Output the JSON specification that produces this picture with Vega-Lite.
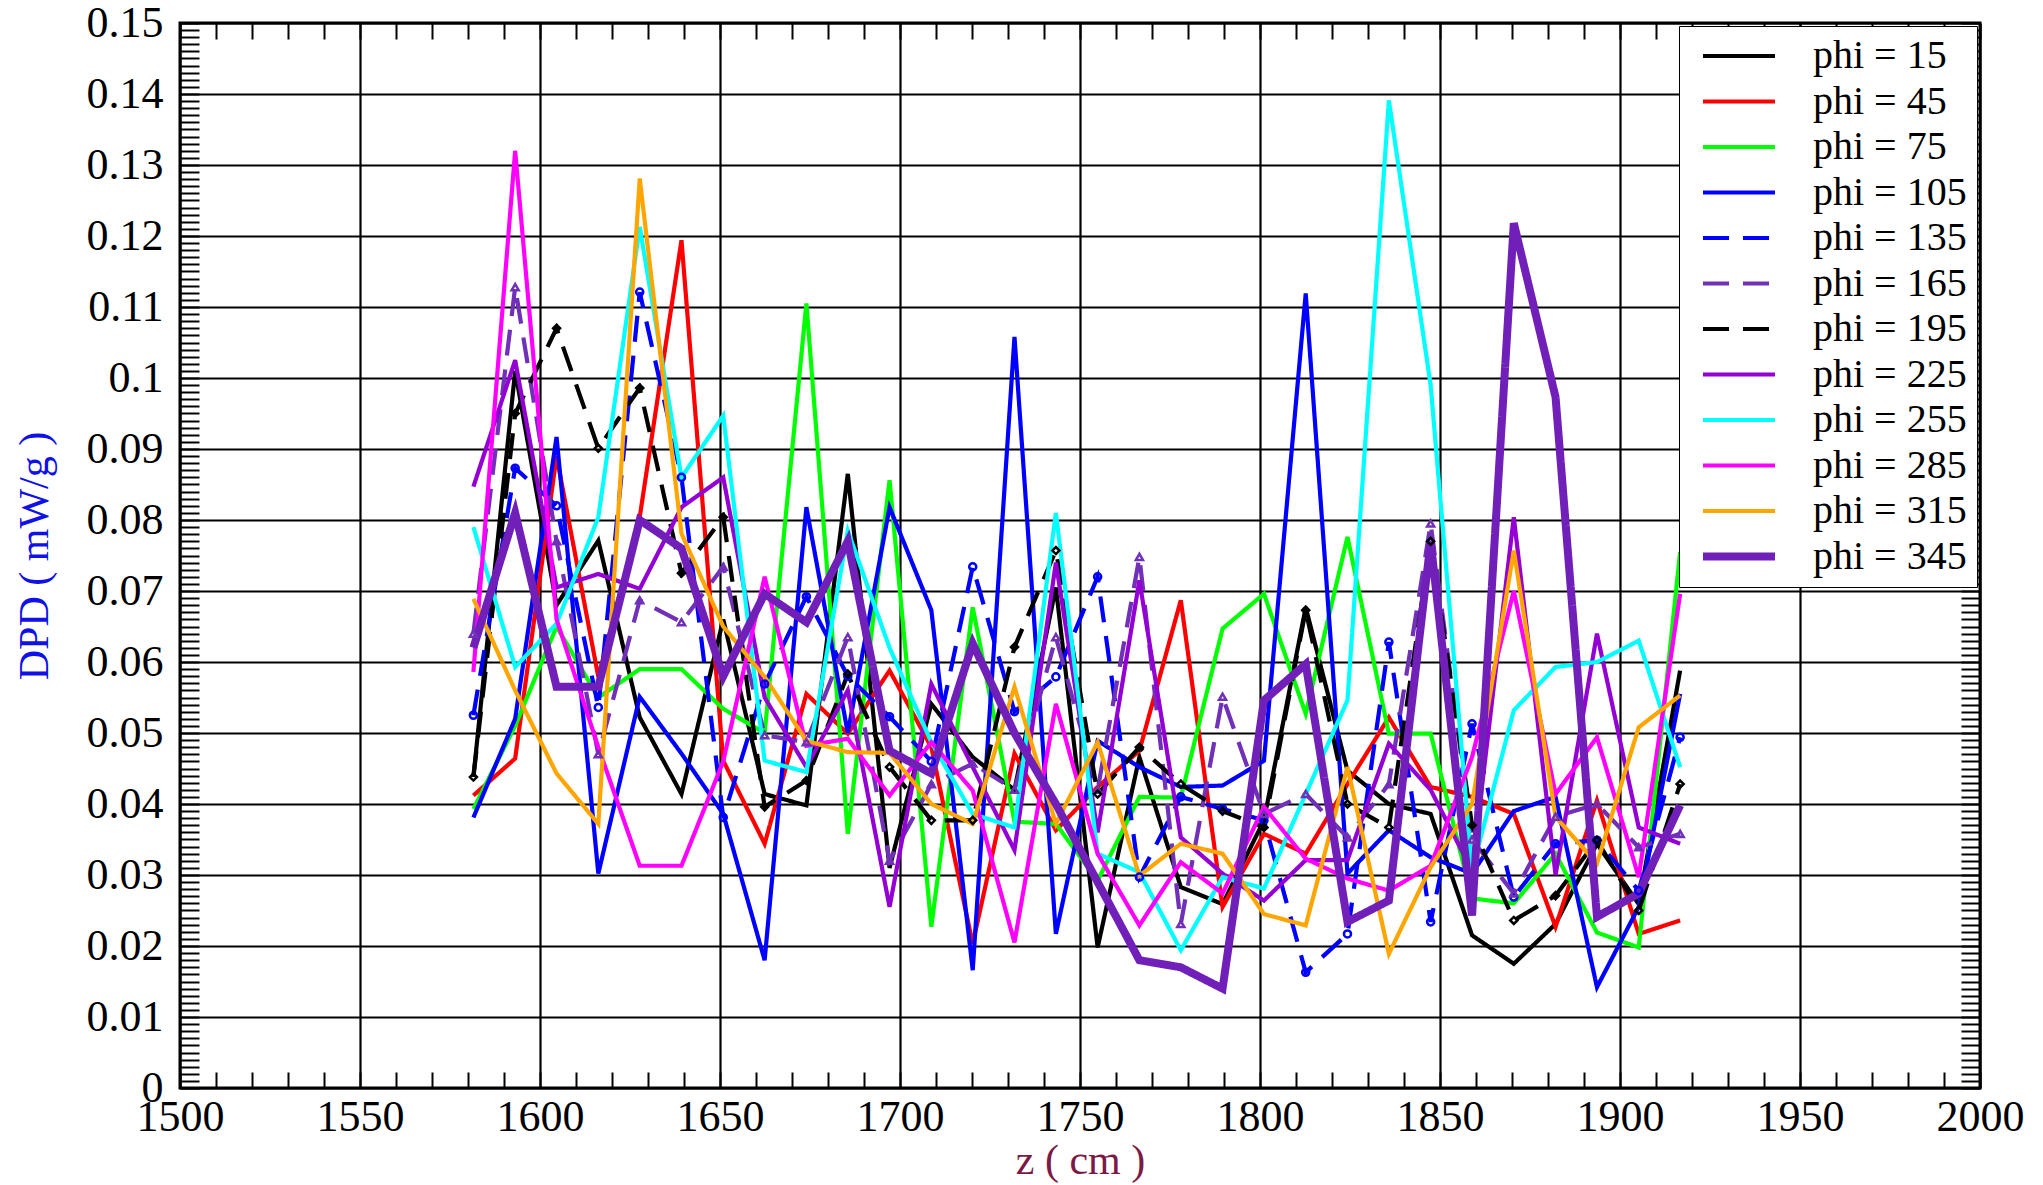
{
"$schema": "https://vega.github.io/schema/vega-lite/v6.json",
"width": 1800, "height": 1065,
"autosize": {"type": "none"},
"padding": {"left": 180, "top": 23, "right": 63, "bottom": 97},
"background": "white",
"config": {"view": {"stroke": "black", "strokeWidth": 3}, "font": "Liberation Serif"},
"data": {"values": [
{"z":1581.5,"15":0.0438,"45":0.0412,"75":0.0393,"105":0.0381,"135":0.0525,"165":0.064,"195":0.0438,"225":0.0847,"255":0.079,"285":0.0586,"315":0.0689,"345":0.062},
{"z":1593.1,"15":0.101,"45":0.0464,"75":0.051,"105":0.052,"135":0.0873,"165":0.1128,"195":0.095,"225":0.1025,"255":0.0593,"285":0.132,"315":0.056,"345":0.081},
{"z":1604.6,"15":0.068,"45":0.089,"75":0.065,"105":0.0917,"135":0.082,"165":0.077,"195":0.107,"225":0.0705,"255":0.0654,"285":0.066,"315":0.0443,"345":0.0565},
{"z":1616.2,"15":0.0771,"45":0.0579,"75":0.055,"105":0.0302,"135":0.0536,"165":0.047,"195":0.0901,"225":0.0724,"255":0.0804,"285":0.048,"315":0.0372,"345":0.0565},
{"z":1627.7,"15":0.0522,"45":0.0804,"75":0.059,"105":0.0551,"135":0.1121,"165":0.0687,"195":0.0986,"225":0.0703,"255":0.1213,"285":0.0313,"315":0.1281,"345":0.080},
{"z":1639.3,"15":0.0414,"45":0.1194,"75":0.059,"105":0.0471,"135":0.086,"165":0.0656,"195":0.0725,"225":0.0818,"255":0.086,"285":0.0313,"315":0.0781,"345":0.076},
{"z":1650.9,"15":0.066,"45":0.0461,"75":0.0534,"105":0.0386,"135":0.0381,"165":0.0734,"195":0.0804,"225":0.086,"255":0.0947,"285":0.046,"315":0.065,"345":0.058},
{"z":1662.4,"15":0.0414,"45":0.0344,"75":0.050,"105":0.018,"135":0.0569,"165":0.0497,"195":0.0396,"225":0.055,"255":0.0461,"285":0.072,"315":0.0579,"345":0.0696},
{"z":1674.0,"15":0.0398,"45":0.0555,"75":0.1105,"105":0.0818,"135":0.0692,"165":0.0487,"195":0.0433,"225":0.0452,"255":0.0445,"285":0.0482,"315":0.0489,"345":0.0656},
{"z":1685.5,"15":0.0865,"45":0.0499,"75":0.0358,"105":0.050,"135":0.058,"165":0.0635,"195":0.0583,"225":0.056,"255":0.0785,"285":0.0492,"315":0.0473,"345":0.077},
{"z":1697.1,"15":0.031,"45":0.0588,"75":0.0856,"105":0.0818,"135":0.0523,"165":0.032,"195":0.0452,"225":0.0255,"255":0.062,"285":0.0412,"315":0.0472,"345":0.0475},
{"z":1708.7,"15":0.0541,"45":0.048,"75":0.0227,"105":0.0673,"135":0.046,"165":0.0428,"195":0.0377,"225":0.0569,"255":0.0487,"285":0.0487,"315":0.040,"345":0.0443},
{"z":1720.2,"15":0.0466,"45":0.0203,"75":0.0677,"105":0.0166,"135":0.0734,"165":0.0457,"195":0.0377,"225":0.0452,"255":0.0386,"285":0.0419,"315":0.0372,"345":0.0626},
{"z":1731.8,"15":0.042,"45":0.0471,"75":0.0375,"105":0.1058,"135":0.053,"165":0.042,"195":0.0621,"225":0.0335,"255":0.0367,"285":0.0205,"315":0.0565,"345":0.050},
{"z":1743.3,"15":0.0705,"45":0.0363,"75":0.0372,"105":0.0217,"135":0.0579,"165":0.0635,"195":0.0757,"225":0.074,"255":0.081,"285":0.0541,"315":0.0372,"345":0.040},
{"z":1754.9,"15":0.0198,"45":0.0424,"75":0.0292,"105":0.0489,"135":0.072,"165":0.042,"195":0.0414,"225":0.036,"255":0.033,"285":0.033,"315":0.0487,"345":0.029},
{"z":1766.5,"15":0.0466,"45":0.0475,"75":0.041,"105":0.0452,"135":0.0297,"165":0.0748,"195":0.048,"225":0.0715,"255":0.0304,"285":0.0229,"315":0.0299,"345":0.018},
{"z":1778.0,"15":0.0283,"45":0.0687,"75":0.0409,"105":0.0424,"135":0.041,"165":0.0231,"195":0.0428,"225":0.0353,"255":0.0194,"285":0.0318,"315":0.0344,"345":0.017},
{"z":1789.6,"15":0.0259,"45":0.0255,"75":0.0647,"105":0.0426,"135":0.0393,"165":0.0551,"195":0.039,"225":0.0302,"255":0.0297,"285":0.0274,"315":0.033,"345":0.014},
{"z":1801.1,"15":0.0377,"45":0.0358,"75":0.0696,"105":0.0461,"135":0.0377,"165":0.0386,"195":0.0367,"225":0.0264,"255":0.0281,"285":0.0396,"315":0.0245,"345":0.0546},
{"z":1812.7,"15":0.0677,"45":0.033,"75":0.0527,"105":0.1119,"135":0.0163,"165":0.0414,"195":0.0673,"225":0.0321,"255":0.0414,"285":0.0323,"315":0.0229,"345":0.0597},
{"z":1824.3,"15":0.0447,"45":0.0428,"75":0.0776,"105":0.0302,"135":0.0217,"165":0.0353,"195":0.040,"225":0.0321,"255":0.0546,"285":0.0295,"315":0.0452,"345":0.0234},
{"z":1835.8,"15":0.040,"45":0.0522,"75":0.0499,"105":0.0363,"135":0.0628,"165":0.0428,"195":0.0367,"225":0.0485,"255":0.1391,"285":0.0278,"315":0.0189,"345":0.0264},
{"z":1847.4,"15":0.0386,"45":0.0424,"75":0.0499,"105":0.0325,"135":0.0234,"165":0.0795,"195":0.077,"225":0.042,"255":0.099,"285":0.0313,"315":0.0311,"345":0.077},
{"z":1858.9,"15":0.0215,"45":0.041,"75":0.0267,"105":0.0302,"135":0.0513,"165":0.035,"195":0.037,"225":0.0306,"255":0.0306,"285":0.0466,"315":0.040,"345":0.0243},
{"z":1870.5,"15":0.0175,"45":0.0386,"75":0.026,"105":0.039,"135":0.0269,"165":0.0274,"195":0.0236,"225":0.0804,"255":0.0532,"285":0.070,"315":0.0757,"345":0.1218},
{"z":1882.1,"15":0.0231,"45":0.0227,"75":0.033,"105":0.041,"135":0.0344,"165":0.0382,"195":0.0271,"225":0.030,"255":0.0593,"285":0.0414,"315":0.0382,"345":0.0973},
{"z":1893.6,"15":0.0344,"45":0.0405,"75":0.0219,"105":0.0142,"135":0.0349,"165":0.040,"195":0.0349,"225":0.064,"255":0.060,"285":0.0494,"315":0.0316,"345":0.0241},
{"z":1905.2,"15":0.0259,"45":0.0217,"75":0.0198,"105":0.0255,"135":0.0278,"165":0.0339,"195":0.025,"225":0.0367,"255":0.063,"285":0.0297,"315":0.0508,"345":0.0274},
{"z":1916.7,"15":0.0588,"45":0.0236,"75":0.0755,"105":0.0555,"135":0.0494,"165":0.0358,"195":0.0428,"225":0.0344,"255":0.0452,"285":0.0696,"315":0.0553,"345":0.0398}
]},
"transform": [{"fold": ["15","45","75","105","135","165","195","225","255","285","315","345"], "as": ["phi", "dpd"]}],
"layer": [
{
"mark": {"type": "line", "strokeJoin": "miter", "strokeCap": "butt"},
"encoding": {
"x": {"field": "z", "type": "quantitative", "scale": {"domain": [1500, 2000], "nice": false, "zero": false},
"axis": {"orient": "bottom", "values": [1500,1510,1520,1530,1540,1550,1560,1570,1580,1590,1600,1610,1620,1630,1640,1650,1660,1670,1680,1690,1700,1710,1720,1730,1740,1750,1760,1770,1780,1790,1800,1810,1820,1830,1840,1850,1860,1870,1880,1890,1900,1910,1920,1930,1940,1950,1960,1970,1980,1990,2000],
"format": "d", "domain": false, "tickSize": -16, "tickColor": "black", "tickWidth": 2,
"labelExpr": "datum.value % 50 === 0 ? datum.label : ''", "labelFontSize": 44, "labelFont": "Liberation Serif", "labelColor": "black", "labelPadding": 23, "labelOverlap": false, "labelFlush": false, "labelBound": false,
"grid": true, "gridColor": "black", "gridWidth": 2.2, "gridOpacity": {"condition": {"test": "datum.value % 50 === 0", "value": 1}, "value": 0},
"title": "z ( cm )", "titleFont": "Liberation Serif", "titleFontSize": 42, "titleFontWeight": "normal", "titleColor": "#7A1A45", "titlePadding": 1}},
"y": {"field": "dpd", "type": "quantitative", "scale": {"domain": [0, 0.15], "nice": false},
"axis": {"orient": "left", "values": [0,0.001,0.002,0.003,0.004,0.005,0.006,0.007,0.008,0.009,0.01,0.011,0.012,0.013,0.014,0.015,0.016,0.017,0.018,0.019,0.02,0.021,0.022,0.023,0.024,0.025,0.026,0.027,0.028,0.029,0.03,0.031,0.032,0.033,0.034,0.035,0.036,0.037,0.038,0.039,0.04,0.041,0.042,0.043,0.044,0.045,0.046,0.047,0.048,0.049,0.05,0.051,0.052,0.053,0.054,0.055,0.056,0.057,0.058,0.059,0.06,0.061,0.062,0.063,0.064,0.065,0.066,0.067,0.068,0.069,0.07,0.071,0.072,0.073,0.074,0.075,0.076,0.077,0.078,0.079,0.08,0.081,0.082,0.083,0.084,0.085,0.086,0.087,0.088,0.089,0.09,0.091,0.092,0.093,0.094,0.095,0.096,0.097,0.098,0.099,0.1,0.101,0.102,0.103,0.104,0.105,0.106,0.107,0.108,0.109,0.11,0.111,0.112,0.113,0.114,0.115,0.116,0.117,0.118,0.119,0.12,0.121,0.122,0.123,0.124,0.125,0.126,0.127,0.128,0.129,0.13,0.131,0.132,0.133,0.134,0.135,0.136,0.137,0.138,0.139,0.14,0.141,0.142,0.143,0.144,0.145,0.146,0.147,0.148,0.149,0.15],
"domain": false, "tickSize": -19, "tickColor": "black", "tickWidth": 2,
"labelExpr": "abs(datum.value*100 - round(datum.value*100)) < 0.001 ? format(datum.value, '.2~f') : ''", "labelFontSize": 44, "labelFont": "Liberation Serif", "labelColor": "black", "labelPadding": 36, "labelOverlap": false, "labelFlush": false, "labelBound": false,
"grid": true, "gridColor": "black", "gridWidth": 2.2, "gridOpacity": {"condition": {"test": "abs(datum.value*100 - round(datum.value*100)) < 0.001", "value": 1}, "value": 0},
"title": "DPD ( mW/g )", "titleFont": "Liberation Serif", "titleFontSize": 42, "titleFontWeight": "normal", "titleColor": "#1010E8", "titlePadding": 30}},
"color": {"field": "phi", "type": "nominal",
"scale": {"domain": ["15","45","75","105","135","165","195","225","255","285","315","345"], "range": ["#000000","#FF0000","#00FF00","#0000FF","#0000FF","#7030B8","#000000","#9400D3","#00FFFF","#FF00FF","#FFA500","#7020B8"]},
"legend": {"orient": "top-right", "offset": 3, "title": null, "symbolType": "M-1,0H3", "symbolSize": 1296, "symbolOffset": 12, "labelOffset": 72, "rowPadding": 5.5, "padding": 10, "labelFont": "Liberation Serif", "labelFontSize": 40, "labelColor": "black", "labelExpr": "'phi = ' + datum.label", "strokeColor": "black", "fillColor": "white", "symbolFillColor": "transparent",
"encode": {"symbols": {"update": {"strokeWidth": {"signal": "datum.value === '345' ? 8 : 4.2"}}}}}},
"strokeDash": {"field": "phi", "type": "nominal", "scale": {"domain": ["15","45","75","105","135","165","195","225","255","285","315","345"], "range": [[1,0],[1,0],[1,0],[1,0],[26,14],[26,14],[26,14],[1,0],[1,0],[1,0],[1,0],[1,0]]}},
"strokeWidth": {"condition": {"test": "datum.phi === '345'", "value": 8}, "value": 4.2}
}
},
{
"transform": [{"filter": {"field": "phi", "oneOf": ["135","165","195"]}}],
"mark": {"type": "point", "filled": false, "strokeWidth": 2.5, "size": 50, "opacity": 1},
"encoding": {
"x": {"field": "z", "type": "quantitative", "scale": {"domain": [1500, 2000], "nice": false, "zero": false},
"axis": {"orient": "top", "values": [1500,1510,1520,1530,1540,1550,1560,1570,1580,1590,1600,1610,1620,1630,1640,1650,1660,1670,1680,1690,1700,1710,1720,1730,1740,1750,1760,1770,1780,1790,1800,1810,1820,1830,1840,1850,1860,1870,1880,1890,1900,1910,1920,1930,1940,1950,1960,1970,1980,1990,2000], "labels": false, "domain": false, "grid": false, "tickSize": -16, "tickColor": "black", "tickWidth": 2, "title": null}},
"y": {"field": "dpd", "type": "quantitative", "scale": {"domain": [0, 0.15], "nice": false},
"axis": {"orient": "right", "values": [0,0.001,0.002,0.003,0.004,0.005,0.006,0.007,0.008,0.009,0.01,0.011,0.012,0.013,0.014,0.015,0.016,0.017,0.018,0.019,0.02,0.021,0.022,0.023,0.024,0.025,0.026,0.027,0.028,0.029,0.03,0.031,0.032,0.033,0.034,0.035,0.036,0.037,0.038,0.039,0.04,0.041,0.042,0.043,0.044,0.045,0.046,0.047,0.048,0.049,0.05,0.051,0.052,0.053,0.054,0.055,0.056,0.057,0.058,0.059,0.06,0.061,0.062,0.063,0.064,0.065,0.066,0.067,0.068,0.069,0.07,0.071,0.072,0.073,0.074,0.075,0.076,0.077,0.078,0.079,0.08,0.081,0.082,0.083,0.084,0.085,0.086,0.087,0.088,0.089,0.09,0.091,0.092,0.093,0.094,0.095,0.096,0.097,0.098,0.099,0.1,0.101,0.102,0.103,0.104,0.105,0.106,0.107,0.108,0.109,0.11,0.111,0.112,0.113,0.114,0.115,0.116,0.117,0.118,0.119,0.12,0.121,0.122,0.123,0.124,0.125,0.126,0.127,0.128,0.129,0.13,0.131,0.132,0.133,0.134,0.135,0.136,0.137,0.138,0.139,0.14,0.141,0.142,0.143,0.144,0.145,0.146,0.147,0.148,0.149,0.15], "labels": false, "domain": false, "grid": false, "tickSize": -19, "tickColor": "black", "tickWidth": 2, "title": null}},
"color": {"field": "phi", "type": "nominal", "scale": {"domain": ["15","45","75","105","135","165","195","225","255","285","315","345"], "range": ["#000000","#FF0000","#00FF00","#0000FF","#0000FF","#7030B8","#000000","#9400D3","#00FFFF","#FF00FF","#FFA500","#7020B8"]}, "legend": null},
"shape": {"field": "phi", "type": "nominal", "scale": {"domain": ["135","165","195"], "range": ["circle","triangle-up","diamond"]}, "legend": null}
}
}
],
"resolve": {"axis": {"x": "independent", "y": "independent"}}
}
